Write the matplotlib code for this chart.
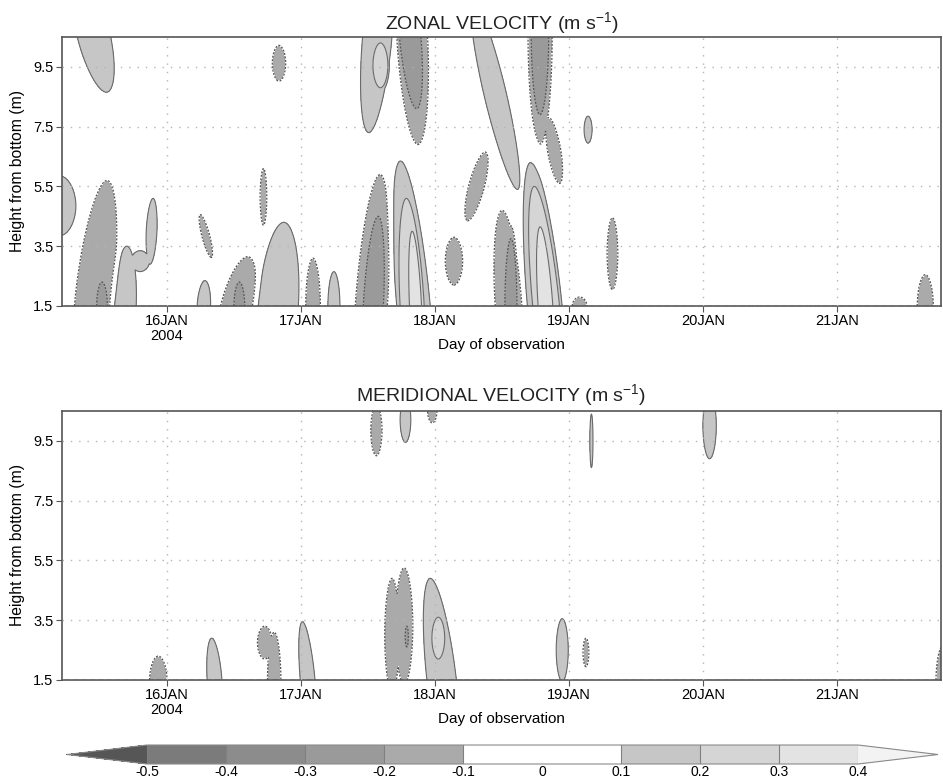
#!/usr/bin/env python3
import numpy as np
import matplotlib
matplotlib.use("Agg")
import matplotlib.pyplot as plt
from matplotlib.colors import ListedColormap, BoundaryNorm

plt.rcParams['font.family'] = ['Liberation Sans', 'DejaVu Sans']
plt.rcParams['mathtext.fontset'] = 'custom'
plt.rcParams['mathtext.rm'] = 'Liberation Sans'
plt.rcParams['mathtext.it'] = 'Liberation Sans:italic'
plt.rcParams['text.color'] = '#222222'

# time axis: days counted from 15 JAN 2004 00:00
day_ticks = [1, 2, 3, 4, 5, 6]
day_labels = ['16JAN\n2004', '17JAN', '18JAN', '19JAN', '20JAN', '21JAN']
height_ticks = [1.5, 3.5, 5.5, 7.5, 9.5]
t_range = (0.216, 6.776)
z_range = (1.5, 10.5)

# velocity cells (m/s): centre day, centre height, half-width (days),
# half-height (m), peak value, drift of centre with height (days/m)
zonal_t0 = [0.45, 0.20, 0.46, 0.515, 0.68, 0.885, 0.80, 1.29, 1.275, 1.52,
            1.54, 1.72, 1.836, 1.83, 2.09, 2.246, 2.525, 2.54, 2.57, 2.593,
            2.83, 2.815, 2.84, 2.83, 2.855, 3.142, 3.31, 3.449, 3.785, 3.89,
            3.784, 3.55, 3.567, 3.81, 3.83, 3.825, 4.143, 4.325, 4.08, 6.66]
zonal_z0 = [10.6, 4.85, 2.0, 1.5, 1.5, 4.0, 3.0, 3.84, 1.5, 1.5,
            1.5, 5.15, 9.62, 1.5, 1.5, 1.5, 1.5, 1.5, 10.5, 9.55,
            10.5, 10.5, 1.5, 1.5, 1.5, 3.0, 5.5, 8.6, 10.5, 6.7,
            10.5, 1.5, 1.5, 1.5, 1.5, 1.5, 7.4, 3.25, 1.5, 1.5]
zonal_rt = [0.125, 0.12, 0.14, 0.04, 0.09, 0.04, 0.07, 0.03, 0.05, 0.12,
            0.04, 0.025, 0.05, 0.15, 0.055, 0.045, 0.12, 0.075, 0.11, 0.056,
            0.115, 0.08, 0.125, 0.09, 0.045, 0.065, 0.06, 0.085, 0.09, 0.05,
            0.065, 0.10, 0.045, 0.12, 0.10, 0.055, 0.03, 0.04, 0.055, 0.06]
zonal_rz = [1.95, 1.0, 3.7, 0.8, 2.0, 1.1, 0.35, 0.72, 0.85, 1.65,
            0.8, 0.95, 0.6, 2.8, 1.6, 1.15, 4.4, 3.0, 3.2, 0.75,
            3.6, 2.4, 4.85, 3.6, 2.5, 0.8, 1.15, 3.2, 3.6, 1.1,
            2.6, 3.2, 2.25, 4.8, 4.0, 2.65, 0.45, 1.2, 0.3, 1.05]
zonal_amp = [0.15, 0.15, -0.15, -0.25, 0.15, 0.15, 0.15, -0.15, 0.15, -0.15,
             -0.25, -0.15, -0.15, 0.15, -0.15, 0.15, -0.15, -0.25, 0.15, 0.25,
             -0.15, -0.25, 0.15, 0.25, 0.35, -0.15, -0.15, 0.15, -0.15, -0.15,
             -0.25, -0.15, -0.25, 0.15, 0.25, 0.35, 0.15, -0.15, -0.15, -0.15]
zonal_tilt = [-0.05, 0.0, 0.025, 0.0, 0.01, 0.01, 0.0, -0.057, 0.01, 0.05,
              0.0, 0.0, 0.0, 0.015, 0.0, 0.0, 0.015, 0.012, 0.02, 0.0,
              -0.012, -0.02, -0.02, -0.012, -0.01, 0.0, 0.056, -0.052, 0.0, -0.036,
              0.0, -0.015, 0.0, -0.02, -0.022, -0.015, 0.0, 0.0, 0.0, 0.0]

merid_t0 = [0.935, 1.355, 1.73, 1.80, 2.05, 2.68, 2.77, 2.79, 3.05, 3.025,
            2.563, 2.78, 2.98, 4.168, 5.05, 3.95, 4.127, 6.80]
merid_z0 = [1.5, 1.5, 2.75, 1.5, 1.5, 3.0, 3.3, 2.95, 1.5, 2.9,
            9.85, 10.2, 10.5, 9.5, 10.0, 2.5, 2.42, 1.5]
merid_rt = [0.065, 0.055, 0.055, 0.05, 0.055, 0.055, 0.065, 0.012, 0.11, 0.048,
            0.042, 0.04, 0.035, 0.012, 0.05, 0.045, 0.022, 0.06]
merid_rz = [0.8, 1.4, 0.55, 1.6, 1.95, 1.9, 1.95, 0.35, 3.4, 0.7,
            0.85, 0.75, 0.4, 0.9, 1.1, 1.05, 0.48, 1.2]
merid_amp = [-0.15, 0.15, -0.15, -0.15, 0.15, -0.15, -0.15, -0.25, 0.15, 0.25,
             -0.15, 0.15, -0.15, 0.15, 0.15, 0.15, -0.15, -0.15]
merid_tilt = [0.0, -0.015, 0.0, 0.0, -0.02, 0.0, 0.0, 0.0, -0.025, 0.0,
              0.0, 0.0, 0.0, 0.0, 0.0, 0.0, 0.0, 0.0]

levels = [-0.5, -0.4, -0.3, -0.2, -0.1, 0.0, 0.1, 0.2, 0.3, 0.4]
bin_colors = ['#7b7b7b', '#8c8c8c', '#9a9a9a', '#aaaaaa', '#ffffff',
              '#ffffff', '#c6c6c6', '#d5d5d5', '#e3e3e3']
under_color = '#565656'
over_color = '#f3f3f3'
cbar_ticks = [-0.5, -0.4, -0.3, -0.2, -0.1, 0.0, 0.1, 0.2, 0.3, 0.4]
cbar_labels = ['-0.5', '-0.4', '-0.3', '-0.2', '-0.1', '0', '0.1', '0.2', '0.3', '0.4']


def build_field(T, Z, t0, z0, rt, rz, amp, tilt, shape=1.9, sharp=8):
    pos = np.zeros_like(T)
    neg = np.zeros_like(T)
    for a, b, c, d, A, s in zip(t0, z0, rt, rz, amp, tilt):
        u = (T - a - s * (Z - b)) / c
        w = (Z - b) / d
        r = (np.abs(u) ** shape + np.abs(w) ** shape) ** (1.0 / shape)
        lev = round(abs(A) - 0.05, 2)
        v = A * np.exp(-np.log(abs(A) / lev) * r ** sharp)
        if A > 0:
            pos = np.maximum(pos, v)
        else:
            neg = np.minimum(neg, v)
    return pos + neg


t = np.linspace(t_range[0], t_range[1], 2200)
z = np.linspace(z_range[0], z_range[1], 450)
T, Z = np.meshgrid(t, z)
zonal = build_field(T, Z, zonal_t0, zonal_z0, zonal_rt, zonal_rz, zonal_amp, zonal_tilt)
merid = build_field(T, Z, merid_t0, merid_z0, merid_rt, merid_rz, merid_amp, merid_tilt)

cmap = ListedColormap(bin_colors)
cmap.set_under(under_color)
cmap.set_over(over_color)
norm = BoundaryNorm(levels, cmap.N)


def draw_panel(ax, field, title, pad):
    cf = ax.contourf(T, Z, field, levels=levels, cmap=cmap, norm=norm, extend='both')
    ax.contour(T, Z, field, levels=[-0.3, -0.2, -0.1], colors='#555555',
               linewidths=0.9, linestyles=[(0, (1.6, 1.2))])
    ax.contour(T, Z, field, levels=[0.1, 0.2, 0.3], colors='#6a6a6a',
               linewidths=0.8, linestyles='solid')
    ax.set_xlim(*t_range)
    ax.set_ylim(*z_range)
    ax.set_xticks(day_ticks)
    ax.set_xticklabels(day_labels, fontsize=10.5, linespacing=1.1)
    ax.set_yticks(height_ticks)
    ax.set_yticklabels([str(h) for h in height_ticks], fontsize=10.5)
    ax.grid(True, color='#b4b4b4', linestyle=(0, (1, 5)), linewidth=1.0)
    ax.set_axisbelow(False)
    ax.tick_params(direction='out', length=4, width=0.8, color='#555555', pad=2)
    for sp in ax.spines.values():
        sp.set_color('#555555')
        sp.set_linewidth(1.2)
    ax.set_title(title, fontsize=14, pad=pad)
    ax.set_xlabel('Day of observation', fontsize=11)
    ax.xaxis.set_label_coords(0.5, -0.119)
    ax.set_ylabel('Height from bottom (m)', fontsize=11.3)
    ax.yaxis.set_label_coords(-0.042, 0.5)
    return cf


fig = plt.figure(figsize=(9.43, 7.78), dpi=100)
ax1 = fig.add_axes([0.0657, 0.6067, 0.932, 0.3458])
ax2 = fig.add_axes([0.0657, 0.126, 0.932, 0.3458])

cf = draw_panel(ax1, zonal, 'ZONAL VELOCITY (m s$^{\\mathrm{-1}}$)', 5.5)
draw_panel(ax2, merid, 'MERIDIONAL VELOCITY (m s$^{\\mathrm{-1}}$)', 7)

# colour key with pointed ends for out-of-range values
cax = fig.add_axes([0.071, 0.018, 0.9237, 0.0244])
cb = fig.colorbar(cf, cax=cax, orientation='horizontal', extendfrac=0.1124,
                  ticks=cbar_ticks)
cb.ax.set_xticklabels(cbar_labels)
cb.ax.tick_params(length=0, pad=1, labelsize=10)
cb.outline.set_edgecolor('#8a8a8a')
cb.outline.set_linewidth(0.8)
for v in cbar_ticks:
    if v != 0.0:
        cax.axvline(v, color='#808080', linewidth=0.8)

fig.savefig('out.png', dpi=100)
